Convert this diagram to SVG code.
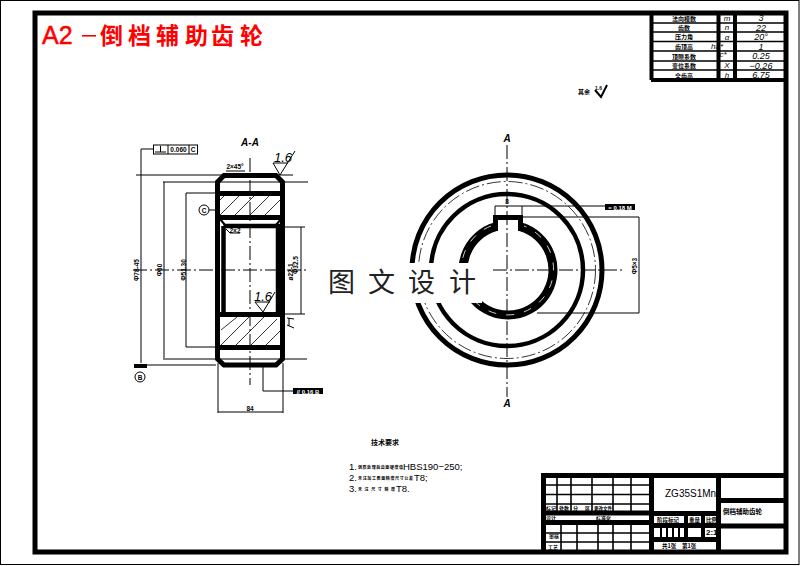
<svg xmlns="http://www.w3.org/2000/svg" width="800" height="566" viewBox="0 0 800 566">
<style>
.th{fill:none;stroke:#000;stroke-width:5}
.m{fill:none;stroke:#000;stroke-width:2}
.t{fill:none;stroke:#000;stroke-width:1}
.cl{fill:none;stroke:#000;stroke-width:1;stroke-dasharray:14 3 2 3}
.h{fill:none;stroke:#000;stroke-width:.8}
text{font-family:"Liberation Sans","Noto Sans CJK SC",sans-serif;fill:#000}
.cj{font-family:"Noto Sans CJK SC","Liberation Sans",sans-serif;font-weight:700}
.d{font-size:6.500px;font-weight:700;text-anchor:middle}
.s{font-size:6px;font-weight:700;text-anchor:middle}
.v{font-size:9px;font-style:italic;text-anchor:middle}
.i{font-size:13px;font-style:italic}
.tt{fill:#f00;font-weight:700;font-size:23px}
.sec{font-size:10px;font-weight:700;font-style:italic;text-anchor:middle}
</style>
<defs>
<clipPath id="c1"><rect x="220" y="196" width="60" height="19"/></clipPath>
<clipPath id="c2"><path d="M221 317H275L281 323V345H221Z"/></clipPath>
</defs>
<rect x="0.5" y="0.5" width="798.5" height="564" fill="#fff" stroke="#000"/>
<g id="frame"><rect x="35" y="13" width="751" height="539" class="th"/></g>
<g id="title"><text x="42" y="44" class="tt" style="font-size:25px;font-weight:400;stroke:#f00;stroke-width:.5">A2</text>
<rect x="82" y="35" width="14" height="1.600" fill="#f00"/>
<text y="44" class="cj tt" x="100 128 156 185 211 240">倒档辅助齿轮</text></g>

<g id="connectors">
<path class="t" d="M153 149H141V363M136 175H293M163 182H308M164 182V358M163 359H307M186 193H215M186 193V347M186 347H216"/>
<path class="cl" d="M133 270H307M250 158V385"/>
<path class="t" d="M285 227H305M301 227V314M285 314H305M209 210H215M147 365H216M218 363V413M283 363V413M218 412H283M263 367V391H293"/>
<path class="t" d="M226 171H245M226 229L230 233H240M273 163H288M273 163L280 175L295 151M255 302H270M255 302L263 312L275 292M287 318L294 319M287 325L294 328M289 318V326"/>
<path class="cl" d="M507 145V397M493 270H622"/>
<path class="t" d="M495 206H605M495 206V217M522 206V217M523 217H639M639 217V313M537 313H639"/>
<path d="M134 364H147V368H134Z" fill="#000"/>
</g>

<g id="section-view">
<g clip-path="url(#c1)"><path class="h" d="M220 215L240 195M235 215L255 195M250 215L270 195M265 215L285 195M205 215L225 195"/></g>
<g clip-path="url(#c2)"><path class="h" d="M221 330L237 317M221 345L250 316M236 345L265 316M251 345L280 316M266 345L281 330"/></g>
<path class="th" d="M224 175.500H276L282.500 182V359L276 365H224L217.500 359V182Z"/>
<path class="th" d="M217 193.500H283M217 217.500H283M217 314.500H283M217 347.500H283"/>
<path class="th" d="M223.500 226H278V314M223.500 226V314" style="stroke-width:4.500"/>
<path class="m" d="M220 219L225 225M281 219L276 225"/>
<text class="sec" x="250" y="146">A-A</text>
<text x="235" y="169" class="d">2×45°</text>
<text x="235" y="233" class="d">2×2</text>
<text x="274" y="162" class="i">1.6</text>
<text x="254" y="301" class="i">1.6</text>
<text transform="translate(139 270) rotate(-90)" class="d">Φ78-45</text>
<text transform="translate(162 270) rotate(-90)" class="d">Φ60</text>
<text transform="translate(186 270) rotate(-90)" class="d">Φ51.30</text>
<text transform="translate(298 265) rotate(-90)" class="d">Φ32.5</text>
<text transform="translate(293 272) rotate(-90)" class="d">ø22-1</text>
<text x="250" y="411" class="d">84</text>
</g>

<g id="tol-top"><rect x="153.500" y="145" width="44" height="9" fill="#fff" stroke="#000"/><path class="t" d="M168 145V154M189 145V154M155 152H166M160.500 146V152"/><text x="178.500" y="152" class="d">0.060</text><text x="193" y="152" class="d">C</text></g>
<g id="tol-bottom"><rect x="293" y="388" width="30" height="6" fill="#000"/><text x="308" y="393.500" style="font-size:6px;fill:#fff;font-weight:700;text-anchor:middle">// 0.16 B</text></g>
<g id="datum-c"><circle cx="204" cy="210" r="5" fill="#fff" stroke="#000"/><text x="204" y="213" class="d">C</text></g>
<g id="datum-b"><circle cx="140" cy="377" r="5" fill="#fff" stroke="#000"/><text x="140" y="380" class="d">B</text></g>

<g id="front-view">
<circle cx="507" cy="270" r="95" style="fill:none;stroke:#000;stroke-width:5"/>
<circle cx="507" cy="270" r="88.500" class="cl" style="stroke-width:.8"/>
<circle cx="507" cy="270" r="76" style="fill:none;stroke:#000;stroke-width:4.500"/>
<path d="M495.500 226.800A45 45 0 1 0 520.500 226.800" style="fill:none;stroke:#000;stroke-width:9"/>
<path d="M495.500 231V217.500H520.500V231" class="th"/>
<path d="M491 226A46 46 0 1 0 524 226" style="fill:none;stroke:#fff;stroke-width:.8;stroke-dasharray:8 10"/>
<text class="sec" x="507" y="142">A</text>
<text class="sec" x="507" y="407">A</text>
<text x="507" y="204" class="d">8</text>
<rect x="605" y="204" width="30" height="6" fill="#000"/><text x="620" y="209.500" style="font-size:6px;fill:#fff;font-weight:700;text-anchor:middle">= 0.18 M</text>
<text transform="translate(637 266) rotate(-90)" class="d">Φ5×3</text>
</g>

<g id="finish-note"><text x="578" y="94" class="cj" style="font-size:6px">其余</text><path class="m" d="M595 90L601 97L607 85"/><text x="595" y="90" class="d" style="text-anchor:start;font-size:5px">1.6</text></g>

<g id="watermark"><rect x="322" y="263" width="160" height="40" fill="#fff"/>
<text y="292" x="328 368 408 449" style="font-family:'Noto Sans CJK SC',sans-serif;font-size:27px;fill:#222;font-weight:400">图文设计</text></g>

<g id="gear-table">
<path style="fill:none;stroke:#000;stroke-width:4" d="M651.500 13V80M718.500 13V80M735 13V80M651 80H786"/>
<path style="fill:none;stroke:#000;stroke-width:1.600" d="M651 23H786M651 32H786M651 41.500H786M651 51H786M651 61H786M651 70H786"/>
<text x="684" y="20.500" class="cj s">法向模数</text><text x="684" y="30" class="cj s">齿数</text><text x="684" y="39" class="cj s">压力角</text><text x="684" y="49" class="cj s">齿顶高</text><text x="684" y="58.500" class="cj s">顶隙系数</text><text x="684" y="68" class="cj s">变位系数</text><text x="684" y="78" class="cj s">全齿高</text>
<text class="v" x="727" y="21" style="font-size:8px">m</text><text class="v" x="727" y="30" style="font-size:8px">n</text><text class="v" x="727" y="39.500" style="font-size:8px">α</text><text class="v" x="717" y="49" style="font-size:8px">ha*</text><text class="v" x="723" y="57" style="font-size:8px">c*</text><text class="v" x="727" y="68" style="font-size:8px">X</text><text class="v" x="727" y="78" style="font-size:8px">h</text>
<text class="v" x="761" y="21">3</text><text class="v" x="761" y="30.500">22</text><text class="v" x="761" y="39.500">20°</text><text class="v" x="761" y="49.500">1</text><text class="v" x="761" y="59">0.25</text><text class="v" x="761" y="68.500">−0.26</text><text class="v" x="761" y="78">6.75</text>
</g>

<g id="tech-notes">
<text x="371" y="445" class="cj" style="font-size:7px">技术要求</text>
<text x="349" y="470" style="font-size:9.500px">1.</text><text x="358" y="469" class="cj" style="font-size:4px" textLength="45">调质处理后齿面硬度值</text><text x="403" y="470" style="font-size:9.500px">HBS190−250;</text>
<text x="349" y="481" style="font-size:9.500px">2.</text><text x="358" y="480" class="cj" style="font-size:4px" textLength="55">未注加工表面精度尺寸公差</text><text x="414" y="481" style="font-size:9.500px">T8;</text>
<text x="349" y="492" style="font-size:9.500px">3.</text><text x="358" y="491" class="cj" style="font-size:4px" textLength="37">未注尺寸精度</text><text x="396" y="492" style="font-size:9.500px">T8.</text>
</g>

<g id="title-block">
<path class="th" d="M543.500 552V475.500H786M651.500 475V552M718.500 475V552M718 500.500H786M718 526H786M651 513.500H718M651 525.500H718M651 539.500H718M543 513H651M543 522.500H651"/>
<path style="fill:none;stroke:#000;stroke-width:1.600" d="M546 485H650M546 494.500H650M546 504H650M546 533H650M546 542H650M557 476V511M571 476V511M592 476V511M613 476V511M631 476V511M561 523V551M577 523V551M598 523V551M613 523V551M631 523V551"/>
<path class="th" style="stroke-width:4" d="M686 513V540M703 513V540"/>
<path style="fill:none;stroke:#000;stroke-width:2" d="M661 527V539M667 527V539M673 527V539M679 527V539"/>
<text x="665" y="497" style="font-size:10px">ZG35S1Mn</text>
<text x="723" y="514" class="cj" style="font-size:6.500px">倒档辅助齿轮</text>
<text x="546" y="510" class="cj" style="font-size:5px">标记</text><text x="559" y="510" class="cj" style="font-size:5px">处数</text><text x="573" y="510" class="cj" style="font-size:5px">分</text><text x="585" y="510" class="cj" style="font-size:5px">区</text><text x="594" y="510" class="cj" style="font-size:4.500px">更改文件</text><text x="546" y="520" class="cj" style="font-size:5px">设计</text><text x="596" y="520" class="cj" style="font-size:5px">标准化</text><text x="549" y="538" class="cj" style="font-size:5px">审核</text><text x="548" y="549" class="cj" style="font-size:5px">工艺</text>
<text x="657" y="522" class="cj" style="font-size:5.500px">阶段标记</text><text x="689" y="522" class="cj" style="font-size:5.500px">重量</text><text x="706" y="522" class="cj" style="font-size:5.500px">比例</text><text x="706" y="535" style="font-size:8px;font-weight:700">2:1</text><text x="662" y="548" class="cj" style="font-size:5.500px">共1张</text><text x="682" y="548" class="cj" style="font-size:5.500px">第1张</text>
</g>
</svg>
